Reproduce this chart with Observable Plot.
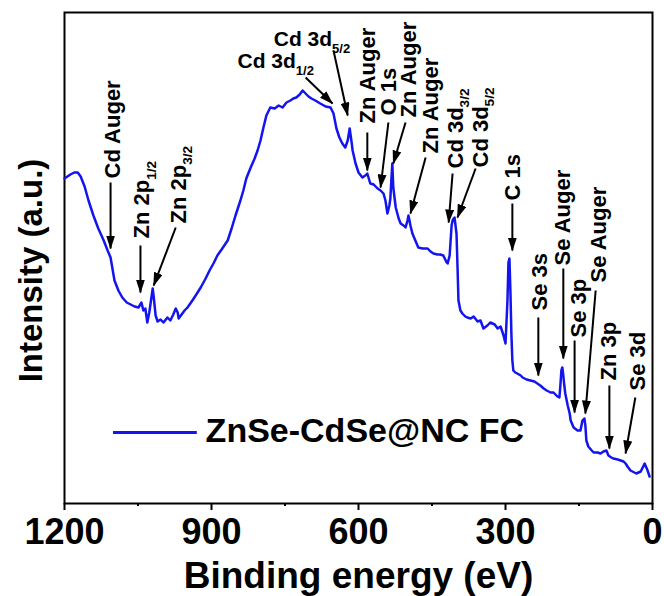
<!DOCTYPE html>
<html><head><meta charset="utf-8">
<script src="https://cdn.jsdelivr.net/npm/d3@7"></script>
<script src="https://cdn.jsdelivr.net/npm/@observablehq/plot@0.6"></script>
<style>body{margin:0;background:#fff}</style>
</head><body><div id="chart"></div>
<script>
// XPS survey spectrum (binding energy in eV, intensity in arbitrary units)
const energy = [1200,1194,1188,1180,1173,1167,1159,1151,1141,1131,1120,1112,1106,1098,1090,1082,1073,1065,1057,1049,1043,1039,1035,1031,1027,1022,1020,1018,1014,1010,1004,998,990,984,978,973,969,967,961,955,949,939,931,922,912,904,896,888,878,867,859,851,841,835,829,820,812,806,800,794,788,780,771,763,755,747,739,733,727,720,714,708,702,696,688,678,667,657,651,645,639,633,627,622,618,614,612,606,600,592,586,582,576,569,561,555,549,545,541,537,535,533,531,529,524,518,514,508,504,500,498,494,490,484,478,469,459,453,447,439,433,427,420,418,414,412,410,408,406,404,402,400,398,396,392,388,382,378,371,365,357,351,345,337,331,322,316,310,304,300,296,294,292,290,288,286,284,280,276,269,265,257,249,241,235,229,222,216,208,202,194,190,188,186,184,182,180,178,173,169,167,161,153,147,143,139,137,135,131,124,120,112,106,100,94,90,84,80,71,65,59,55,51,45,41,33,24,16,10,6,2];
const intensity = [325,327,329,331,331,327,317,303,288,275,263,253,246,223,213,206,201,199,197,196,201,193,195,181,191,208,215,207,188,182,184,181,186,183,189,195,191,185,189,193,196,203,209,216,225,233,240,248,255,263,275,288,303,313,325,336,345,353,363,376,388,396,395,398,396,401,403,405,406,409,413,410,407,405,403,400,397,396,390,375,366,360,356,363,375,361,353,340,331,326,328,330,320,319,315,313,310,303,290,298,305,323,340,316,296,285,280,278,276,283,288,278,270,263,256,255,255,252,250,249,249,248,241,240,248,263,278,283,285,286,278,270,238,203,193,190,187,186,185,187,182,183,175,178,181,179,175,177,168,160,203,241,245,213,170,143,133,131,130,128,126,124,123,122,120,118,115,113,111,111,107,106,118,133,136,128,118,110,98,90,83,76,73,73,83,85,78,63,57,53,51,51,50,52,53,48,46,45,44,43,42,40,37,33,32,30,32,40,33,27];

// annotation labels (vertical, reading upward)
const vLabelText = ["Cd Auger","Zn 2p_1/2","Zn 2p_3/2","Zn Auger","O 1s","Zn Auger","Zn Auger","Cd 3d_3/2","Cd 3d_5/2","C 1s","Se 3s","Se Auger","Se 3p","Se Auger","Zn 3p","Se 3d"];
const vLabelX = [1102,1041,967,580,537,498,453,402,351,284,229,182,151,110,88,29];
const vLabelY = [325,265,280,380,388,386,350,335,336,303,193,238,166,221,123,113];
// annotation labels (horizontal)
const hLabelText = ["Cd 3d_1/2","Cd 3d_5/2"];
const hLabelX = [847,773];
const hLabelY = [450,472];
// arrows pointing to the peaks
const arrowX1 = [1106,1045,973,708,651,582,539,504,463,408,361,286,233,182,159,116,88,35];
const arrowY1 = [321,258,276,426,453,371,381,381,346,330,335,300,186,235,163,213,118,106];
const arrowX2 = [1106,1045,1018,653,622,582,555,529,494,416,398,286,233,182,159,137,88,55];
const arrowY2 = [255,211,218,400,388,333,316,340,290,281,286,253,128,145,91,90,55,50];

const majorTicks = [1200,900,600,300,0];
const minorTicks = [1050,750,450,150];
const legendLabel = "ZnSe-CdSe@NC FC";
const legendX = [1100,929];
const legendY = 71;
const legendTextX = 912;
const legendTextY = 86;
const xLabel = "Binding energy (eV)";
const yLabel = "Intensity (a.u.)";

const spectrum = energy.map((e,i)=>({e, v: intensity[i]}));
const vLabels = vLabelText.map((t,i)=>({t, x: vLabelX[i], y: vLabelY[i]}));
const hLabels = hLabelText.map((t,i)=>({t, x: hLabelX[i], y: hLabelY[i]}));
const arrows = arrowX1.map((x1,i)=>({x1, y1: arrowY1[i], x2: arrowX2[i], y2: arrowY2[i]}));

const FONT = "Arial, 'Liberation Sans', sans-serif";
const blue = "#1414ee";

const plot = Plot.plot({
  width: 664, height: 596,
  marginLeft: 64, marginRight: 12, marginTop: 12, marginBottom: 93,
  style: {fontFamily: FONT, fontWeight: "bold", background: "#fff", color: "#000", overflow: "visible"},
  x: {domain: [1200, 0]},
  y: {domain: [0, 491], axis: null},
  marks: [
    Plot.frame({stroke: "#000", strokeWidth: 2}),
    Plot.axisX({ticks: majorTicks, tickSize: 7, tickPadding: 8, tickFormat: d => String(d), fontSize: 36, fontWeight: "bold", label: null, strokeWidth: 2}),
    Plot.axisX({ticks: minorTicks, tickSize: 3, tickFormat: () => "", label: null, strokeWidth: 2}),
    Plot.line(spectrum, {x: "e", y: "v", stroke: blue, strokeWidth: 2.5}),
    Plot.link(arrows, {x1: "x1", y1: "y1", x2: "x2", y2: "y2", stroke: "#000", strokeWidth: 2, markerEnd: "arrow"}),
    Plot.text(vLabels, {x: "x", y: "y", text: "t", rotate: -90, textAnchor: "start", fontSize: 22, fontWeight: "bold", fill: "#000"}),
    Plot.text(hLabels, {x: "x", y: "y", text: "t", textAnchor: "start", lineAnchor: "top", fontSize: 21, fontWeight: "bold", fill: "#000"}),
    Plot.ruleY([legendY], {x1: legendX[0], x2: legendX[1], stroke: blue, strokeWidth: 3}),
    Plot.text([legendLabel], {x: legendTextX, y: legendTextY, text: d => d, textAnchor: "start", lineAnchor: "top", fontSize: 34, fontWeight: "bold", fill: "#000"}),
    Plot.text([xLabel], {x: 600, y: -58, text: d => d, lineAnchor: "top", fontSize: 37, fontWeight: "bold", fill: "#000"}),
    Plot.text([yLabel], {x: 1200, y: 233, dx: -33, text: d => d, rotate: -90, fontSize: 33, fontWeight: "bold", fill: "#000"})
  ]
});
document.getElementById("chart").appendChild(plot);

// filled arrowheads
const svg = d3.select(plot);
const defs = svg.insert("defs", ":first-child");
defs.append("marker")
  .attr("id", "fillArrow").attr("viewBox", "0 0 14 9")
  .attr("markerWidth", 14).attr("markerHeight", 9)
  .attr("refX", 13).attr("refY", 4.5)
  .attr("orient", "auto").attr("markerUnits", "userSpaceOnUse")
  .append("path").attr("d", "M0,0L14,4.5L0,9Z").attr("fill", "#000");
svg.selectAll("g[aria-label=link] path").attr("marker-end", "url(#fillArrow)");

// subscripts
svg.selectAll("text").each(function() {
  const t = this.textContent;
  if (t.includes("_") && this.children.length === 0) {
    const [main, sub] = t.split("_");
    const fs = parseFloat(getComputedStyle(this).fontSize) || 22;
    this.textContent = main;
    d3.select(this).append("tspan").attr("dy", fs * 0.3).style("font-size", (fs * 0.62) + "px").text(sub);
  }
});
</script>
</body></html>
